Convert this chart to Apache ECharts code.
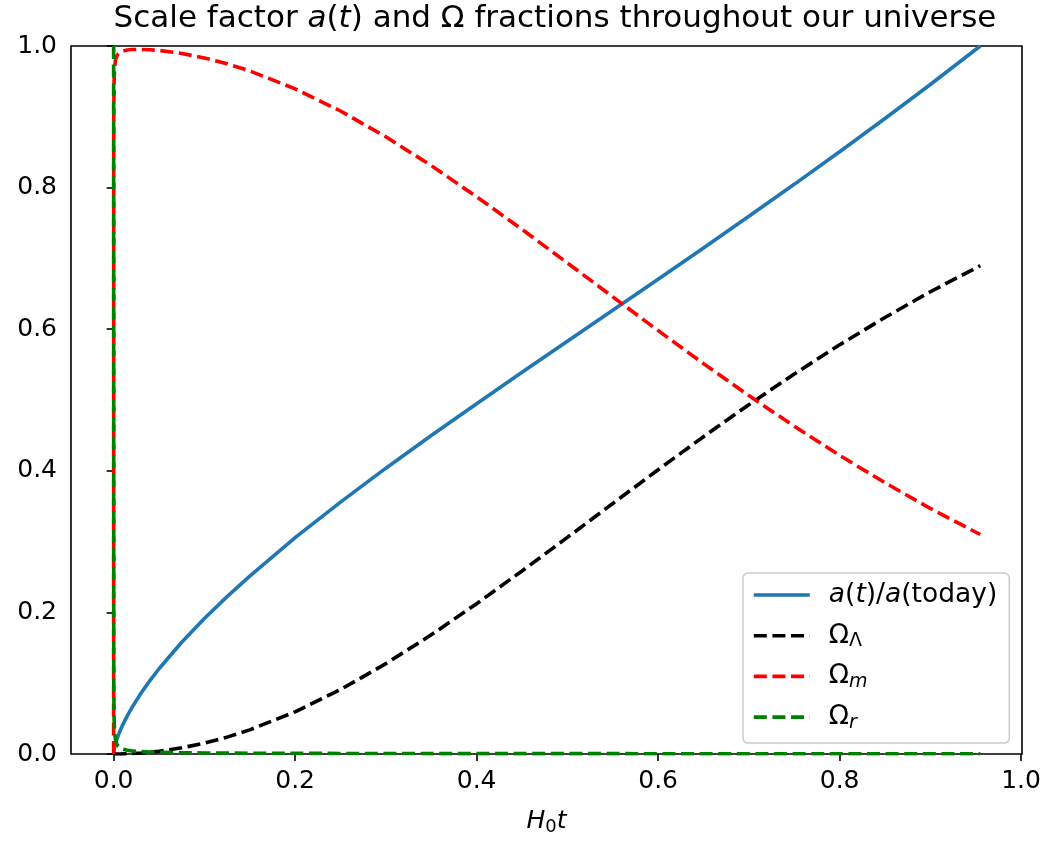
<!DOCTYPE html>
<html>
<head>
<meta charset="utf-8">
<script src="https://cdn.jsdelivr.net/npm/echarts@6/dist/echarts.min.js"></script>
<style>
  html, body { margin: 0; padding: 0; background: #fff; }
  #chart { width: 1044px; height: 841px; }
</style>
</head>
<body>
<div id="chart"></div>
<script>
// H0*t sample points
const tVals = [0, 0.0001, 0.0002, 0.0005, 0.001, 0.002, 0.003, 0.005, 0.0075, 0.01,
  0.015, 0.02, 0.03, 0.04, 0.05, 0.075, 0.1, 0.125, 0.15, 0.2, 0.25, 0.3, 0.35, 0.4,
  0.45, 0.5, 0.55, 0.6, 0.65, 0.7, 0.75, 0.8, 0.85, 0.9, 0.955];

// a(t)/a(today)
const aScale = [0, 0.0019, 0.0030, 0.0056, 0.0089, 0.0141, 0.0185, 0.0259, 0.0340, 0.0412,
  0.0539, 0.0653, 0.0856, 0.1037, 0.1204, 0.1579, 0.1914, 0.2223, 0.2513, 0.3055, 0.3558,
  0.4037, 0.4499, 0.4948, 0.5392, 0.5831, 0.6268, 0.6706, 0.7148, 0.7594, 0.8046, 0.8507,
  0.8976, 0.9456, 1.0];

const omegaL = [0, 0, 0, 0, 0, 0, 0, 0, 0.0001, 0.0002, 0.0003, 0.0006, 0.0014, 0.0025,
  0.0039, 0.0087, 0.0153, 0.0238, 0.0341, 0.0596, 0.0910, 0.1276, 0.1683, 0.2123, 0.2585,
  0.3059, 0.3538, 0.4015, 0.4482, 0.4934, 0.5367, 0.5779, 0.6166, 0.6529, 0.6897];

const omegaM = [0, 0.868, 0.913, 0.951, 0.968, 0.980, 0.9845, 0.989, 0.9914, 0.9928,
  0.9944, 0.9950, 0.9952, 0.9947, 0.9937, 0.9895, 0.9832, 0.9749, 0.9648, 0.9395, 0.9082,
  0.8717, 0.8311, 0.7871, 0.7410, 0.6936, 0.6457, 0.5981, 0.5514, 0.5062, 0.4629, 0.4218,
  0.3831, 0.3468, 0.3100];

const omegaR = [1, 0.132, 0.087, 0.049, 0.032, 0.020, 0.0155, 0.011, 0.0085, 0.007,
  0.0053, 0.0044, 0.0034, 0.0028, 0.0024, 0.0018, 0.0015, 0.0013, 0.0011, 0.0009, 0.0008,
  0.0007, 0.0006, 0.0006, 0.0005, 0.0005, 0.0005, 0.0004, 0.0004, 0.0004, 0.0004, 0.0003,
  0.0003, 0.0003, 0.0003];

const xTicks = [0, 0.2, 0.4, 0.6, 0.8, 1.0];

const seriesNames = ['a(t)/a(today)', 'Omega_L', 'Omega_m', 'Omega_r'];
const legendLabels = {
  'a(t)/a(today)': '{i|a}({i|t})/{i|a}(today)',
  'Omega_L': 'Ω{sub|Λ}',
  'Omega_m': 'Ω{subi|m}',
  'Omega_r': 'Ω{subi|r}'
};

const FONT = 'DejaVu Sans';

function pairs(ys) {
  return tVals.map((t, i) => [t, ys[i]]);
}

function richFor(size) {
  const sub = Math.round(size * 0.7);
  return {
    i: { fontFamily: FONT, fontStyle: 'italic', fontSize: size, lineHeight: 30, color: '#000' },
    sub: { fontFamily: FONT, fontSize: sub, lineHeight: 14, verticalAlign: 'bottom', color: '#000' },
    subi: { fontFamily: FONT, fontStyle: 'italic', fontSize: sub, lineHeight: 14, verticalAlign: 'bottom', color: '#000' }
  };
}

const chart = echarts.init(document.getElementById('chart'));

const LW = 3.6;
const dash = [13, 5.6];

const option = {
  animation: false,
  backgroundColor: '#fff',
  title: {
    text: 'Scale factor {i|a}({i|t}) and Ω fractions throughout our universe',
    left: 555,
    textAlign: 'center',
    top: 0,
    padding: 0,
    textStyle: {
      fontFamily: FONT,
      fontSize: 31,
      fontWeight: 'normal',
      color: '#000',
      lineHeight: 38,
      rich: {
        i: { fontFamily: FONT, fontStyle: 'italic', fontSize: 31, lineHeight: 38, color: '#000' }
      }
    }
  },
  grid: {
    left: 71,
    right: 22,
    top: 46,
    bottom: 84,
    show: true,
    borderColor: '#000',
    borderWidth: 1.6,
    containLabel: false
  },
  legend: {
    orient: 'vertical',
    left: 743,
    top: 573,
    padding: [7, 12, 11, 9],
    itemGap: 10.7,
    itemWidth: 56,
    itemHeight: 14,
    data: seriesNames,
    backgroundColor: 'rgba(255,255,255,0.8)',
    borderColor: '#cccccc',
    borderWidth: 1.5,
    borderRadius: 5,
    itemStyle: { opacity: 0 },
    lineStyle: { width: LW },
    formatter: name => legendLabels[name],
    textStyle: {
      fontFamily: FONT,
      fontSize: 26.5,
      lineHeight: 30,
      color: '#000',
      padding: [0, 0, 0, 14],
      rich: richFor(26.5)
    }
  },
  xAxis: {
    type: 'value',
    min: -0.047,
    max: 1.001,
    name: '{i|H}{sub|0}{i|t}',
    nameLocation: 'middle',
    nameGap: 52,
    nameTextStyle: {
      fontFamily: FONT,
      fontSize: 25,
      color: '#000',
      rich: richFor(25)
    },
    axisLine: { show: false },
    splitLine: { show: false },
    axisTick: {
      show: true,
      length: 7,
      customValues: xTicks,
      lineStyle: { color: '#000', width: 1.6 }
    },
    axisLabel: {
      customValues: xTicks,
      margin: 15,
      fontFamily: FONT,
      fontSize: 25,
      color: '#000',
      formatter: v => v.toFixed(1)
    }
  },
  yAxis: {
    type: 'value',
    min: 0,
    max: 1,
    interval: 0.2,
    axisLine: { show: false },
    splitLine: { show: false },
    axisTick: {
      show: true,
      length: 7,
      lineStyle: { color: '#000', width: 1.6 }
    },
    axisLabel: {
      margin: 14,
      fontFamily: FONT,
      fontSize: 25,
      color: '#000',
      formatter: v => v.toFixed(1)
    }
  },
  series: [
    {
      name: seriesNames[0],
      type: 'line',
      data: pairs(aScale),
      symbol: 'none',
      lineStyle: { color: '#1f77b4', width: LW },
      itemStyle: { color: '#1f77b4' }
    },
    {
      name: seriesNames[1],
      type: 'line',
      data: pairs(omegaL),
      symbol: 'none',
      lineStyle: { color: '#000000', width: LW, type: dash },
      itemStyle: { color: '#000000' }
    },
    {
      name: seriesNames[2],
      type: 'line',
      data: pairs(omegaM),
      symbol: 'none',
      lineStyle: { color: '#ff0000', width: LW, type: dash },
      itemStyle: { color: '#ff0000' }
    },
    {
      name: seriesNames[3],
      type: 'line',
      data: pairs(omegaR),
      symbol: 'none',
      lineStyle: { color: '#008000', width: LW, type: dash },
      itemStyle: { color: '#008000' }
    }
  ]
};

chart.setOption(option);
</script>
</body>
</html>
